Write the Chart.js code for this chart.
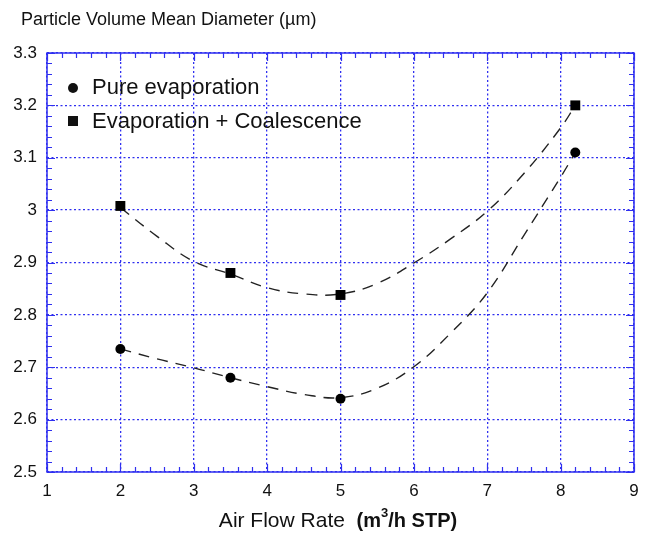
<!DOCTYPE html>
<html>
<head>
<meta charset="utf-8">
<script src="https://cdn.jsdelivr.net/npm/chart.js@4"></script>
<style>
  body { margin: 0; background: #fff; }
</style>
</head>
<body>
<canvas id="graficaDiametro" width="650" height="535"></canvas>
<script>
// Datos
const caudalAire = [2, 3.5, 5, 8.2];
const evaporacionPura = [2.735, 2.68, 2.64, 3.11];
const evaporacionCoalescencia = [3.008, 2.88, 2.838, 3.2];

// Curvas de ajuste (discontinuas)
const ajusteX = [2, 2.5, 3, 3.5, 4, 4.5, 5, 5.5, 6, 6.5, 7, 7.5, 8, 8.2];
const ajustePura = [2.735, 2.716, 2.699, 2.68, 2.663, 2.648, 2.642, 2.66, 2.701, 2.765, 2.842, 2.952, 3.063, 3.11];
const ajusteCoalescencia = [3.005, 2.95, 2.902, 2.878, 2.852, 2.84, 2.84, 2.86, 2.899, 2.945, 2.998, 3.07, 3.157, 3.2];

const ticksX = [1, 2, 3, 4, 5, 6, 7, 8, 9];
const ticksY = [2.5, 2.6, 2.7, 2.8, 2.9, 3, 3.1, 3.2, 3.3];

const etiquetas = ['Pure evaporation', 'Evaporation + Coalescence'];
const tituloY = 'Particle Volume Mean Diameter (\u00b5m)';

const AZUL = '#2f2ff0';
const FUENTE = 'Arial, "Liberation Sans", sans-serif';

const puntos = (xs, ys) => xs.map((x, i) => ({ x: x, y: ys[i] }));

// Ticks hacia dentro en los cuatro lados + marco + textos
const pluginDecoracion = {
  id: 'decoracion',
  beforeDatasetsDraw(chart) {
    const { ctx, chartArea: a, scales } = chart;
    const sx = scales.x, sy = scales.y;
    ctx.save();
    ctx.strokeStyle = AZUL;
    ctx.lineWidth = 1.5;
    ctx.strokeRect(a.left, a.top, a.right - a.left, a.bottom - a.top);
    ctx.lineWidth = 1.2;
    ctx.beginPath();
    for (let v = ticksX[0]; v <= ticksX[ticksX.length - 1] + 1e-9; v += 0.2) {
      const mayor = Math.abs(v - Math.round(v)) < 1e-6;
      const L = mayor ? 8 : 5;
      const px = Math.round(sx.getPixelForValue(v)) + 0.5;
      ctx.moveTo(px, a.bottom); ctx.lineTo(px, a.bottom - L);
      ctx.moveTo(px, a.top); ctx.lineTo(px, a.top + L);
    }
    for (let k = 0; k <= 40; k++) {
      const v = ticksY[0] + k * 0.02;
      const L = k % 5 === 0 ? 8 : 5;
      const py = Math.round(sy.getPixelForValue(v)) + 0.5;
      ctx.moveTo(a.left, py); ctx.lineTo(a.left + L, py);
      ctx.moveTo(a.right, py); ctx.lineTo(a.right - L, py);
    }
    ctx.stroke();
    ctx.restore();
  },
  afterDraw(chart) {
    const { ctx, chartArea: a } = chart;
    ctx.save();
    ctx.fillStyle = '#111';
    ctx.textBaseline = 'middle';

    // titulo del eje Y arriba a la izquierda
    ctx.font = '18px ' + FUENTE;
    ctx.textAlign = 'left';
    ctx.fillText(tituloY, 21, 20);

    // leyenda dentro del grafico
    ctx.font = '22px ' + FUENTE;
    const lx = a.left + 26;
    ctx.beginPath();
    ctx.arc(lx, a.top + 35, 5, 0, Math.PI * 2);
    ctx.fill();
    ctx.fillRect(lx - 5, a.top + 63, 10, 10);
    ctx.fillText(etiquetas[0], a.left + 45, a.top + 35);
    ctx.fillText(etiquetas[1], a.left + 45, a.top + 69);

    // titulo del eje X con parte en negrita
    const y0 = 520;
    const p1 = 'Air Flow Rate  ';
    const p2 = '(m';
    const p3 = '3';
    const p4 = '/h STP)';
    const fNorm = '21px ' + FUENTE;
    const fBold = 'bold 20px ' + FUENTE;
    const fSup = 'bold 13px ' + FUENTE;
    ctx.font = fNorm; const w1 = ctx.measureText(p1).width;
    ctx.font = fBold; const w2 = ctx.measureText(p2).width; const w4 = ctx.measureText(p4).width;
    ctx.font = fSup; const w3 = ctx.measureText(p3).width;
    let x = 338 - (w1 + w2 + w3 + w4) / 2;
    ctx.textBaseline = 'alphabetic';
    ctx.font = fNorm; ctx.fillText(p1, x, y0 + 7); x += w1;
    ctx.font = fBold; ctx.fillText(p2, x, y0 + 7); x += w2;
    ctx.font = fSup; ctx.fillText(p3, x, y0 - 3); x += w3;
    ctx.font = fBold; ctx.fillText(p4, x, y0 + 7);
    ctx.restore();
  }
};

const lineaAjuste = (datos) => ({
  data: puntos(ajusteX, datos),
  showLine: true,
  pointRadius: 0,
  borderColor: '#222',
  borderWidth: 1.4,
  borderDash: [11, 8],
  tension: 0.4,
  fill: false
});

new Chart(document.getElementById('graficaDiametro'), {
  type: 'scatter',
  data: {
    datasets: [
      {
        label: etiquetas[0],
        data: puntos(caudalAire, evaporacionPura),
        pointStyle: 'circle',
        pointRadius: 5,
        backgroundColor: '#000',
        borderColor: '#000',
        borderWidth: 0
      },
      {
        label: etiquetas[1],
        data: puntos(caudalAire, evaporacionCoalescencia),
        pointStyle: 'rect',
        pointRadius: 7,
        backgroundColor: '#000',
        borderColor: '#000',
        borderWidth: 0
      },
      lineaAjuste(ajustePura),
      lineaAjuste(ajusteCoalescencia)
    ]
  },
  options: {
    responsive: false,
    animation: false,
    layout: { padding: { top: 53, right: 16, left: 0, bottom: 0 } },
    plugins: {
      legend: { display: false },
      tooltip: { enabled: false }
    },
    scales: {
      x: {
        type: 'linear',
        min: 1,
        max: 9,
        afterBuildTicks: (s) => { s.ticks = ticksX.map(v => ({ value: v })); },
        afterFit: (s) => { s.height = 63; },
        ticks: {
          padding: 9,
          color: '#111',
          font: { size: 17, family: FUENTE },
          callback: (v) => String(v)
        },
        grid: { color: AZUL, lineWidth: 1.3, drawTicks: false },
        border: { display: false, dash: [2, 2.5] }
      },
      y: {
        min: 2.5,
        max: 3.3,
        afterBuildTicks: (s) => { s.ticks = ticksY.map(v => ({ value: v })); },
        afterFit: (s) => { s.width = 47; },
        ticks: {
          padding: 10,
          color: '#111',
          font: { size: 17, family: FUENTE },
          callback: (v) => String(Number(v.toFixed(1)))
        },
        grid: { color: AZUL, lineWidth: 1.3, drawTicks: false },
        border: { display: false, dash: [2, 2.5] }
      }
    }
  },
  plugins: [pluginDecoracion]
});
</script>
</body>
</html>
